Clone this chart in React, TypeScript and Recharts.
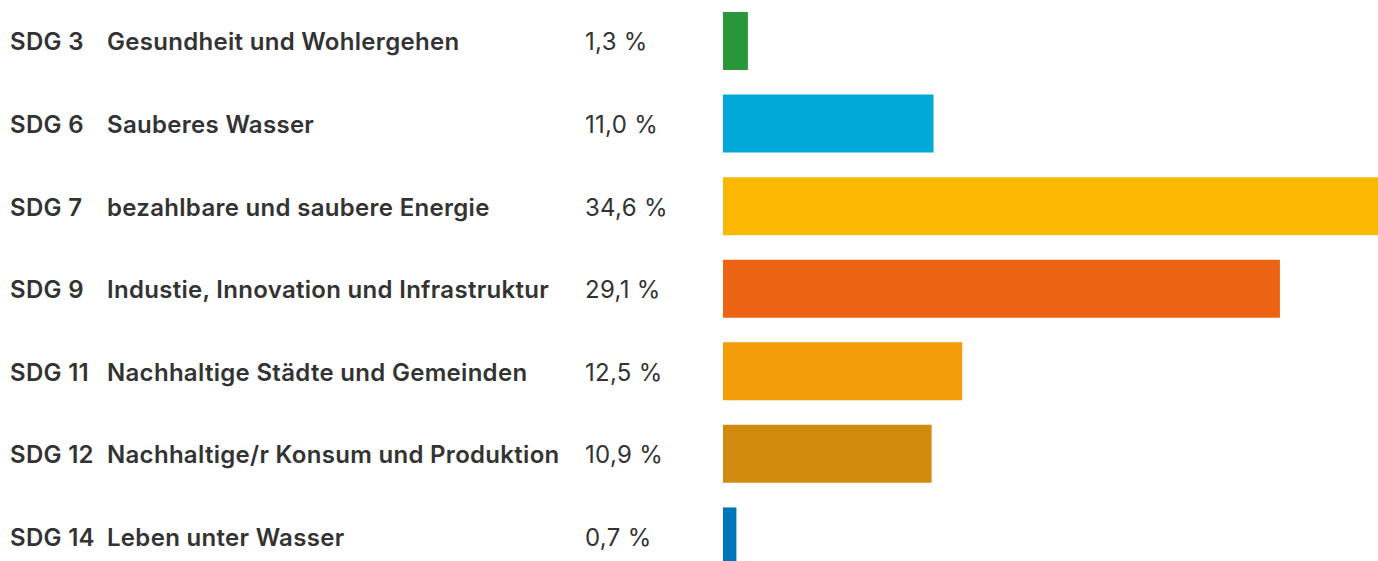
import React from 'react';
import { BarChart, Bar, XAxis, YAxis, Cell } from 'recharts';

const codes = ['SDG 3', 'SDG 6', 'SDG 7', 'SDG 9', 'SDG 11', 'SDG 12', 'SDG 14'];
const names = [
  'Gesundheit und Wohlergehen',
  'Sauberes Wasser',
  'bezahlbare und saubere Energie',
  'Industie, Innovation und Infrastruktur',
  'Nachhaltige Städte und Gemeinden',
  'Nachhaltige/r Konsum und Produktion',
  'Leben unter Wasser',
];
const shares = [1.3, 11.0, 34.6, 29.1, 12.5, 10.9, 0.7];
const colors = ['#289639', '#02a8d8', '#fab800', '#ec6313', '#f39b09', '#d18b0e', '#0075b9'];

const data = codes.map((code, i) => ({ code, name: names[i], value: shares[i] }));

const fmt = (v: number) => `${v.toFixed(1).replace('.', ',')} %`;

const FONT = 'Inter';

const labelStyle = {
  fontFamily: FONT,
  fontSize: 24,
  letterSpacing: 0.3,
  fill: '#333333',
};

const RowLabel = ({ y, payload }: any) => {
  const row = data[payload.index];
  return (
    <g>
      <text x={10} y={y} dy="0.38em" style={labelStyle} fontWeight={600}>
        {row.code}
      </text>
      <text x={107} y={y} dy="0.38em" style={labelStyle} fontWeight={600}>
        {row.name}
      </text>
      <text x={585} y={y} dy="0.38em" style={labelStyle} fontWeight={400}>
        {fmt(row.value)}
      </text>
    </g>
  );
};

export default function App() {
  return (
    <div
      style={{
        position: 'absolute',
        left: 0,
        top: 0,
        width: 1378,
        height: 561,
        overflow: 'hidden',
        background: '#fff',
        fontFamily: FONT,
      }}
    >
      <BarChart
        width={1412}
        height={578}
        data={data}
        layout="vertical"
        margin={{ top: 0, right: 0, bottom: 0, left: 0 }}
        barSize={58}
      >
        <XAxis type="number" domain={[0, 36]} hide />
        <YAxis
          type="category"
          dataKey="code"
          width={723}
          axisLine={false}
          tickLine={false}
          tick={<RowLabel />}
          interval={0}
        />
        <Bar dataKey="value" isAnimationActive={false}>
          {data.map((d, i) => (
            <Cell key={d.code} fill={colors[i]} />
          ))}
        </Bar>
      </BarChart>
    </div>
  );
}
